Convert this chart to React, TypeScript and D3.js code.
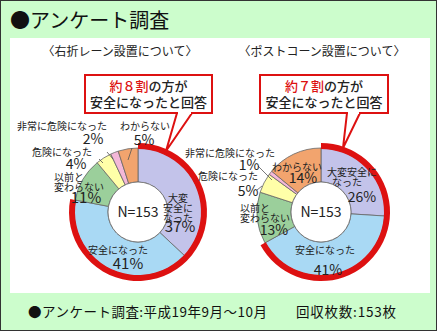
import React from "react";
import * as d3 from "d3";

const categories = ["大変安全になった", "安全になった", "以前と変わらない", "危険になった", "非常に危険になった", "わからない"];
const colors = ["#c3c3ea", "#a9d9f4", "#9bcf9b", "#ffffa8", "#f4b8d8", "#f2a46e"];
const rightTurnValues = [37, 41, 11, 4, 2, 5];
const postConeValues = [26, 41, 13, 5, 1, 14];
const titles = ["〈右折レーン設置について〉", "〈ポストコーン設置について〉"];
const calloutRed = ["約８割", "約７割"];
const sampleN = 153;

const W = 437, H = 331;
const R = 64, R0 = 30;
const FONT = "'Noto Sans CJK JP', 'Noto Sans', sans-serif";

type Lbl = { lines: string[]; x: number; y: number; anchor?: string; pct: [number, number]; size?: number };

// label layouts (annotation positions, y = text centre) per chart, per slice
const leftLabels: Lbl[] = [
  { lines: ["大変", "安全に", "なった"], x: 178, y: 198, pct: [180, 227], size: 15 },
  { lines: ["安全になった"], x: 118, y: 250, pct: [128, 264], size: 15 },
  { lines: ["以前と", "変わらない"], x: 54, y: 177, anchor: "start", pct: [86, 198], size: 15 },
  { lines: ["危険になった"], x: 62, y: 152, pct: [76, 164] },
  { lines: ["非常に危険になった"], x: 62, y: 126, pct: [93, 139] },
  { lines: ["わからない"], x: 145, y: 126, pct: [144, 140] },
];
const rightLabels: Lbl[] = [
  { lines: ["大変安全に", "なった"], x: 327, y: 172, anchor: "start", pct: [362, 197] },
  { lines: ["安全になった"], x: 325, y: 250, pct: [328, 270] },
  { lines: ["以前と", "変わらない"], x: 240, y: 208, anchor: "start", pct: [274, 230] },
  { lines: ["危険になった"], x: 228, y: 176, pct: [248, 191] },
  { lines: ["非常に危険になった"], x: 230, y: 153, pct: [249, 165] },
  { lines: ["わからない"], x: 297, y: 167, pct: [303, 178] },
];

function Donut({ cx, values, labels, idx, leaders }: { cx: number; values: number[]; labels: Lbl[]; idx: number; leaders: [number, number, number, number][] }) {
  const cy = 212;
  const pie = d3.pie<number>().sort(null).value((d) => d)(values);
  const arc = d3.arc<d3.PieArcDatum<number>>().innerRadius(R0).outerRadius(R);
  const safeShare = (values[0] + values[1]) / d3.sum(values);
  const redArc = d3.arc()({ innerRadius: R - 1, outerRadius: R + 5, startAngle: 0, endAngle: safeShare * 2 * Math.PI }) as string;
  const boxL = idx === 0 ? 85 : 260;
  const boxR = idx === 0 ? 212 : 388;
  const boxMid = (boxL + boxR) / 2;
  const tail = idx === 0 ? [[177, 113], [192, 113], [166, 151]] : [[347, 113], [360, 113], [343, 148]];
  const titleX = idx === 0 ? 120 : 322;
  return (
    <g>
      <text x={titleX} y={52} dy="0.35em" fontSize={12} textAnchor="middle" fontFamily={FONT} fill="#222">{titles[idx]}</text>
      <g transform={`translate(${cx},${cy})`}>
        {pie.map((p, i) => (
          <path key={i} d={arc(p) as string} fill={colors[i]} stroke="#666" strokeWidth={0.8} />
        ))}
        <circle r={R0} fill="#fff" stroke="#666" strokeWidth={0.8} />
        <path d={redArc} fill="#dd1111" />
        <text dy="0.35em" fontSize={14} textAnchor="middle" fontFamily={FONT} fill="#222">N={sampleN}</text>
      </g>
      {leaders.map((l, i) => (
        <line key={i} x1={l[0]} y1={l[1]} x2={l[2]} y2={l[3]} stroke="#555" strokeWidth={0.8} />
      ))}
      {labels.map((lb, i) => (
        <g key={i} fontFamily={FONT} fill="#222">
          {lb.lines.map((t, j) => (
            <text key={j} x={lb.x + (lb.anchor === "start" && j > 0 && idx === 1 && i === 0 ? 5 : 0)} y={lb.y + j * 10} dy="0.35em" fontSize={10}
              textAnchor={lb.anchor ?? "middle"}>{t}</text>
          ))}
          <text x={lb.pct[0]} y={lb.pct[1]} dy="0.35em" fontSize={lb.size ?? 14} textAnchor="middle">{values[i]}%</text>
        </g>
      ))}
      <polygon points={tail.map((p) => p.join(",")).join(" ")} fill="#fff" stroke="#dd1111" strokeWidth={2} strokeLinejoin="miter" />
      <rect x={boxL} y={75} width={boxR - boxL} height={38} fill="#fff" stroke="#dd1111" strokeWidth={2} />
      <rect x={tail[0][0] + 1} y={111} width={tail[1][0] - tail[0][0] - 2} height={3} fill="#fff" />
      <text x={boxMid} y={86} dy="0.35em" fontSize={13} fontWeight={500} textAnchor="middle" fontFamily={FONT} fill="#222">
        <tspan fill="#dd1111">{calloutRed[idx]}</tspan>の方が
      </text>
      <text x={boxMid} y={102} dy="0.35em" fontSize={13} fontWeight={500} textAnchor="middle" fontFamily={FONT} fill="#222">安全になったと回答</text>
    </g>
  );
}

export default function App() {
  return (
    <svg width={W} height={H} style={{ position: "absolute", left: 0, top: 0 }}>
      <rect x={0.5} y={0.5} width={W - 1} height={H - 1} fill="#ccfdcc" stroke="#333" strokeWidth={1} />
      <text x={10} y={21} dy="0.35em" fontSize={20} fontFamily={FONT} fill="#111">●アンケート調査</text>
      <rect x={10} y={38} width={420} height={255} fill="#fff" />
      <Donut cx={138} values={rightTurnValues} labels={leftLabels} idx={0}
        leaders={[[107, 152, 113, 159], [99, 159, 103, 163], [132, 148, 128, 160]]} />
      <Donut cx={321} values={postConeValues} labels={rightLabels} idx={1}
        leaders={[[258, 166, 272, 180], [257, 190, 262, 186]]} />
      <text x={28} y={312} dy="0.35em" fontSize={13.5} textLength={239} lengthAdjust="spacing" fontFamily={FONT} fill="#111">●アンケート調査:平成19年9月～10月</text>
      <text x={296} y={312} dy="0.35em" fontSize={13.5} textLength={100} lengthAdjust="spacing" fontFamily={FONT} fill="#111">回収枚数:153枚</text>
    </svg>
  );
}
